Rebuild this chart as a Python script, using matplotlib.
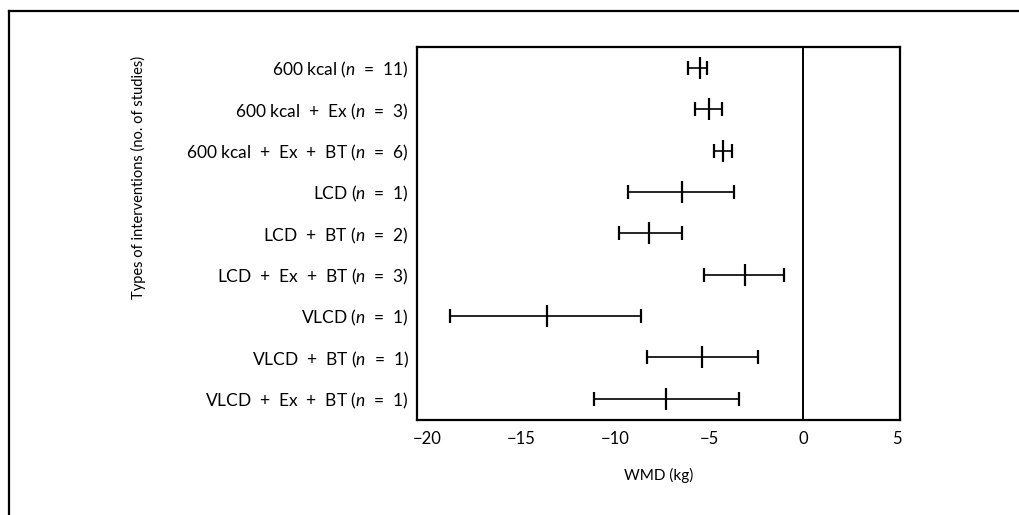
import numpy as np
import matplotlib
matplotlib.use("Agg")
import matplotlib.pyplot as plt
from matplotlib.lines import Line2D

plt.rcParams['font.family'] = ['Lato', 'DejaVu Sans']
plt.rcParams['mathtext.fontset'] = 'custom'
plt.rcParams['mathtext.rm'] = 'Lato'
plt.rcParams['mathtext.it'] = 'Lato:italic'

# intervention groups, top to bottom
groups = ['600 kcal ($n$  =  11)', '600 kcal  +  Ex ($n$  =  3)', '600 kcal  +  Ex  +  BT ($n$  =  6)',
          'LCD ($n$  =  1)', 'LCD  +  BT ($n$  =  2)', 'LCD  +  Ex  +  BT ($n$  =  3)',
          'VLCD ($n$  =  1)', 'VLCD  +  BT ($n$  =  1)', 'VLCD  +  Ex  +  BT ($n$  =  1)']
# weighted mean difference (kg) with 95% CI
wmd = [-5.5, -5.0, -4.25, -6.45, -8.2, -3.1, -13.6, -5.35, -7.3]
ci_low = [-6.1, -5.75, -4.75, -9.3, -9.8, -5.25, -18.8, -8.3, -11.1]
ci_high = [-5.1, -4.3, -3.75, -3.65, -6.45, -1.0, -8.6, -2.4, -3.4]

wmd = np.array(wmd)
lo = wmd - np.array(ci_low)
hi = np.array(ci_high) - wmd
ypos = np.arange(len(groups))

fig = plt.figure(figsize=(10.19, 5.15), dpi=100)
ax = fig.add_axes([0.4092, 0.1845, 0.4740, 0.7248])

ax.errorbar(wmd, ypos, xerr=[lo, hi], fmt='none', ecolor='black',
            elinewidth=1.2, capsize=4.7, capthick=1.6)
ax.plot(wmd, ypos, linestyle='none', marker='|', markersize=16.5,
        markeredgewidth=1.6, color='black')
ax.axvline(0, color='black', linewidth=1.4)

ax.set_xlim(-20.53, 5.16)
ax.set_ylim(len(groups) - 0.485, -0.515)
ax.set_xticks([-20, -15, -10, -5, 0, 5])
ax.set_yticks(ypos)
ax.set_yticklabels(groups, fontsize=12.5)
ax.tick_params(axis='x', length=0, pad=8, labelsize=12)
ax.tick_params(axis='y', length=0, pad=6)
for s in ax.spines.values():
    s.set_linewidth(1.6)

ax.set_xlabel('WMD (kg)', fontsize=11, labelpad=15)
ax.set_ylabel('Types of interventions (no. of studies)', fontsize=10.5)
ax.yaxis.set_label_coords(-0.561, 0.651)

# outer frame (top and left edges only)
fig.add_artist(Line2D([0.0088, 1.0], [0.9786, 0.9786], color='black', linewidth=1.6))
fig.add_artist(Line2D([0.0088, 0.0088], [0.0, 0.9786], color='black', linewidth=1.6))

fig.savefig('out.png', dpi=100)
